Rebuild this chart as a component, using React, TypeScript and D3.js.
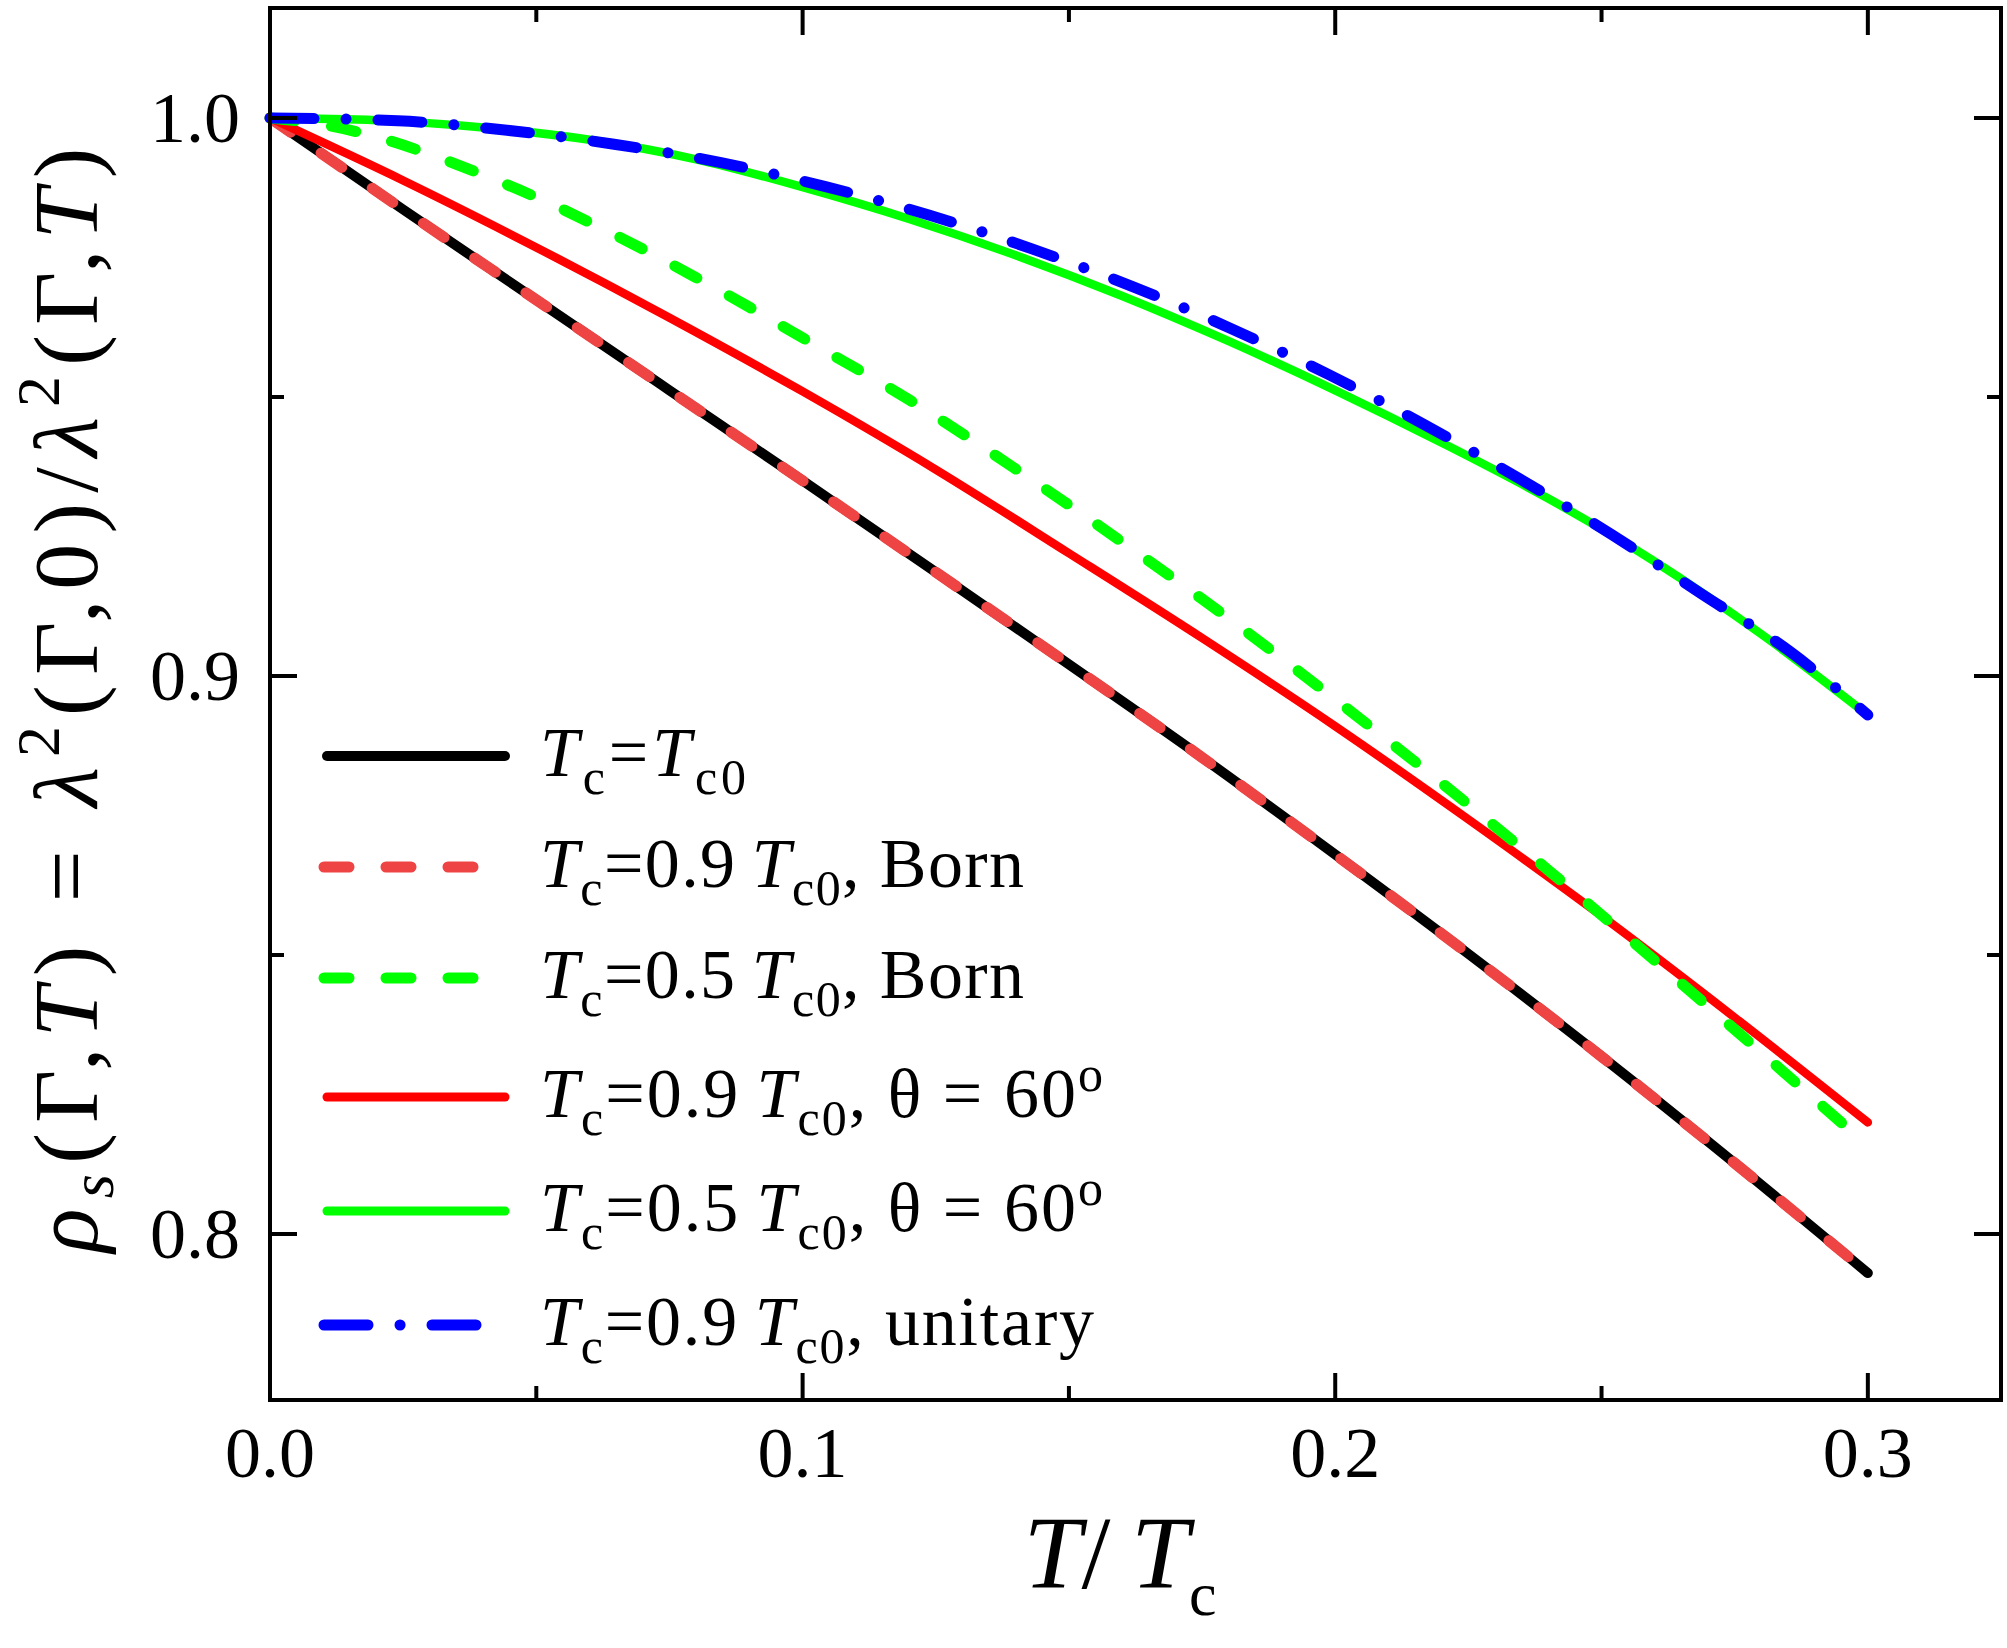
import React from 'react';
import * as d3 from 'd3';

const W = 2007;
const H = 1648;

const xDomain: [number, number] = [0, 0.325];
const yDomain: [number, number] = [0.77025, 1.01971];
const xMajorTicks = [0, 0.1, 0.2, 0.3];
const xMinorTicks = [0.05, 0.15, 0.25];
const yMajorTicks = [0.8, 0.9, 1.0];
const yMinorTicks = [0.85, 0.95];

// Tc = Tc0
const cleanT = [0, 0.025, 0.05, 0.075, 0.1, 0.125, 0.15, 0.175, 0.2, 0.225, 0.25, 0.275, 0.3];
const cleanRho = [1.0, 0.9836, 0.9674, 0.9512, 0.935, 0.9186, 0.9021, 0.8854, 0.868, 0.8502, 0.8318, 0.8127, 0.793];
// Tc = 0.9 Tc0, Born
const born09T = [0, 0.025, 0.05, 0.075, 0.1, 0.125, 0.15, 0.175, 0.2, 0.225, 0.25, 0.275, 0.3];
const born09Rho = [1.0, 0.9836, 0.9674, 0.9512, 0.935, 0.9186, 0.9021, 0.8854, 0.868, 0.8502, 0.8318, 0.8127, 0.793];
// Tc = 0.5 Tc0, Born
const born05T = [0, 0.01, 0.02, 0.03, 0.04, 0.05, 0.06, 0.07, 0.08, 0.09, 0.1, 0.12, 0.14, 0.16, 0.18, 0.2, 0.22, 0.24, 0.26, 0.28, 0.3];
const born05Rho = [1.0, 0.9988, 0.9966, 0.9935, 0.9898, 0.9858, 0.9813, 0.9765, 0.9714, 0.9661, 0.9606, 0.9495, 0.9371, 0.924, 0.9103, 0.8958, 0.8808, 0.8652, 0.849, 0.8325, 0.8158];
// Tc = 0.9 Tc0, theta = 60
const th09T = [0, 0.025, 0.05, 0.075, 0.1, 0.125, 0.15, 0.175, 0.2, 0.225, 0.25, 0.275, 0.3];
const th09Rho = [1.0, 0.9888, 0.9768, 0.9642, 0.951, 0.937, 0.922, 0.9068, 0.891, 0.8743, 0.857, 0.8388, 0.82];
// Tc = 0.5 Tc0, theta = 60
const th05T = [0, 0.02, 0.04, 0.06, 0.08, 0.1, 0.12, 0.14, 0.16, 0.18, 0.2, 0.22, 0.24, 0.26, 0.28, 0.3];
const th05Rho = [1.0, 0.9996, 0.9983, 0.9961, 0.9926, 0.9876, 0.9819, 0.9754, 0.9681, 0.96, 0.9512, 0.9418, 0.9318, 0.9205, 0.9075, 0.893];
// Tc = 0.9 Tc0, unitary
const uniT = [0, 0.024, 0.0445, 0.0646, 0.0847, 0.1043, 0.1237, 0.1432, 0.1622, 0.1806, 0.1988, 0.2168, 0.2347, 0.252, 0.2688, 0.2855, 0.3];
const uniRho = [1.0, 0.9995, 0.9978, 0.9953, 0.992, 0.9877, 0.9826, 0.9765, 0.9697, 0.9622, 0.954, 0.945, 0.9353, 0.9253, 0.9147, 0.9043, 0.893];

type Seg = [string, 'n' | 'i' | 'sub' | 'subi' | 'sup'];

const legendLabels: Seg[][] = [
  [['T', 'i'], ['c', 'sub'], ['=', 'n'], ['T', 'i'], ['c0', 'sub']],
  [['T', 'i'], ['c', 'sub'], ['=0.9\u2009', 'n'], ['T', 'i'], ['c0', 'sub'], [', Born', 'n']],
  [['T', 'i'], ['c', 'sub'], ['=0.5\u2009', 'n'], ['T', 'i'], ['c0', 'sub'], [', Born', 'n']],
  [['T', 'i'], ['c', 'sub'], ['=0.9\u2009', 'n'], ['T', 'i'], ['c0', 'sub'], [', \u03B8 = 60', 'n'], ['o', 'sup']],
  [['T', 'i'], ['c', 'sub'], ['=0.5\u2009', 'n'], ['T', 'i'], ['c0', 'sub'], [', \u03B8 = 60', 'n'], ['o', 'sup']],
  [['T', 'i'], ['c', 'sub'], ['=0.9\u2009', 'n'], ['T', 'i'], ['c0', 'sub'], [', unitary', 'n']],
];
const legendWidths = [206, 484, 484, 563, 563, 554];

const yLabel: Seg[] = [
  ['\u03C1', 'i'], ['s', 'subi'], ['(\u0393,', 'n'], ['T', 'i'], [') = ', 'n'], ['\u03BB', 'i'], ['2', 'sup'],
  ['(\u0393,0)/', 'n'], ['\u03BB', 'i'], ['2', 'sup'], ['(\u0393,', 'n'], ['T', 'i'], [')', 'n'],
];
const xLabel: Seg[] = [['T', 'i'], ['/\u2009', 'n'], ['T', 'i'], ['c', 'sub']];

const FONT = '"Liberation Serif", "Times New Roman", serif';

function renderSegs(segs: Seg[], subSize: number, subShift: number, supShift: number) {
  let cur = 0;
  return segs.map(([t, k], i) => {
    const target = k === 'sub' || k === 'subi' ? subShift : k === 'sup' ? -supShift : 0;
    const dy = target - cur;
    cur = target;
    const small = k === 'sub' || k === 'subi' || k === 'sup';
    const italic = k === 'i' || k === 'subi';
    return (
      <tspan
        key={i}
        dy={dy !== 0 ? dy : undefined}
        fontStyle={italic ? 'italic' : 'normal'}
        fontSize={small ? subSize : undefined}
      >
        {t}
      </tspan>
    );
  });
}

export default function App() {
  const x = d3.scaleLinear().domain(xDomain).range([270, 2001]);
  const y = d3.scaleLinear().domain(yDomain).range([1400, 8]);

  const makeLine = (ts: number[], rs: number[]) =>
    d3
      .line<number>()
      .x((_, i) => x(ts[i]))
      .y((d) => y(d))
      .curve(d3.curveMonotoneX)(rs) || '';

  const dash = '25 37';
  const dashDot = '44 32 0.1 31.9';

  const series = [
    { t: cleanT, r: cleanRho, color: '#000000', w: 10, dash: undefined as string | undefined },
    { t: born09T, r: born09Rho, color: '#EF4444', w: 11, dash },
    { t: th09T, r: th09Rho, color: '#FF0000', w: 8.5, dash: undefined },
    { t: born05T, r: born05Rho, color: '#00FF00', w: 11, dash },
    { t: th05T, r: th05Rho, color: '#00FF00', w: 8.5, dash: undefined },
    { t: uniT, r: uniRho, color: '#0000FF', w: 11, dash: dashDot },
  ];

  const legendStyles = [
    { color: '#000000', w: 10, dash: undefined as string | undefined },
    { color: '#EF4444', w: 11, dash },
    { color: '#00FF00', w: 11, dash },
    { color: '#FF0000', w: 9, dash: undefined },
    { color: '#00FF00', w: 9, dash: undefined },
    { color: '#0000FF', w: 11, dash: dashDot },
  ];
  const legendY = [756, 867, 978, 1097, 1211, 1325];

  const [x0, x1] = x.range();
  const [yb, yt] = y.range();

  return (
    <svg
      width={W}
      height={H}
      viewBox={`0 0 ${W} ${H}`}
      style={{ position: 'absolute', left: 0, top: 0, background: '#fff' }}
      fontFamily={FONT}
    >
      <rect x={0} y={0} width={W} height={H} fill="#fff" />

      {series.map((s, i) => (
        <path
          key={i}
          d={makeLine(s.t, s.r)}
          fill="none"
          stroke={s.color}
          strokeWidth={s.w}
          strokeDasharray={s.dash}
          strokeLinecap="round"
          strokeLinejoin="round"
        />
      ))}

      {/* frame */}
      <rect x={x0} y={yt} width={x1 - x0} height={yb - yt} fill="none" stroke="#000" strokeWidth={4} />

      {/* x ticks */}
      {xMajorTicks.map((t) => (
        <g key={'xM' + t}>
          <line x1={x(t)} x2={x(t)} y1={yb} y2={yb - 27} stroke="#000" strokeWidth={4} />
          <line x1={x(t)} x2={x(t)} y1={yt} y2={yt + 27} stroke="#000" strokeWidth={4} />
          <text x={x(t)} y={1477} fontSize={72} textAnchor="middle">
            {d3.format('.1f')(t)}
          </text>
        </g>
      ))}
      {xMinorTicks.map((t) => (
        <g key={'xm' + t}>
          <line x1={x(t)} x2={x(t)} y1={yb} y2={yb - 14} stroke="#000" strokeWidth={4} />
          <line x1={x(t)} x2={x(t)} y1={yt} y2={yt + 14} stroke="#000" strokeWidth={4} />
        </g>
      ))}

      {/* y ticks */}
      {yMajorTicks.map((t) => (
        <g key={'yM' + t}>
          <line x1={x0} x2={x0 + 27} y1={y(t)} y2={y(t)} stroke="#000" strokeWidth={4} />
          <line x1={x1} x2={x1 - 27} y1={y(t)} y2={y(t)} stroke="#000" strokeWidth={4} />
          <text x={240} y={y(t) + 24} fontSize={72} textAnchor="end">
            {d3.format('.1f')(t)}
          </text>
        </g>
      ))}
      {yMinorTicks.map((t) => (
        <g key={'ym' + t}>
          <line x1={x0} x2={x0 + 14} y1={y(t)} y2={y(t)} stroke="#000" strokeWidth={4} />
          <line x1={x1} x2={x1 - 14} y1={y(t)} y2={y(t)} stroke="#000" strokeWidth={4} />
        </g>
      ))}

      {/* x label */}
      <text x={1120} y={1588} fontSize={104} textAnchor="middle">
        {renderSegs(xLabel, 62, 27, 0)}
      </text>

      {/* y label */}
      <text
        transform="translate(97,700) rotate(-90)"
        x={0}
        y={0}
        fontSize={92}
        textAnchor="middle"
        textLength={1105}
        lengthAdjust="spacing"
      >
        {renderSegs(yLabel, 62, 16, 38)}
      </text>

      {/* legend */}
      {legendLabels.map((segs, i) => {
        const st = legendStyles[i];
        const ly = legendY[i];
        const dashed = !!st.dash;
        return (
          <g key={'lg' + i}>
            <line
              x1={dashed ? 324 : 327}
              x2={dashed ? 478 : 505}
              y1={ly}
              y2={ly}
              stroke={st.color}
              strokeWidth={st.w}
              strokeDasharray={st.dash}
              strokeLinecap="round"
            />
            <text x={540} y={ly + 20} fontSize={70} textLength={legendWidths[i]} lengthAdjust="spacing">
              {renderSegs(segs, 50, 18, 26)}
            </text>
          </g>
        );
      })}
    </svg>
  );
}
